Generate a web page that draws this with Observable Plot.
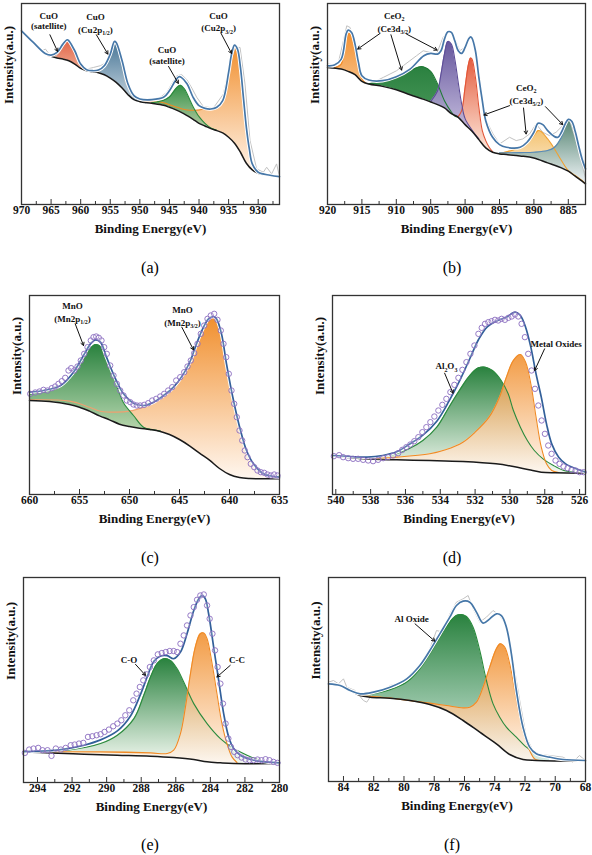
<!DOCTYPE html>
<html><head><meta charset="utf-8">
<script src="https://cdn.jsdelivr.net/npm/d3@7"></script>
<script src="https://cdn.jsdelivr.net/npm/@observablehq/plot@0.6"></script>
<style>
html,body{margin:0;padding:0;background:#fff;}
#fig{position:relative;width:592px;height:855px;overflow:hidden;font-family:"Liberation Serif","Times New Roman",serif;}
.panel{position:absolute;width:296px;}
.panel svg{overflow:visible;font-family:"Liberation Serif","Times New Roman",serif !important;}
.panel svg text{font-family:"Liberation Serif","Times New Roman",serif !important;}
.cap{position:absolute;width:60px;text-align:center;font-size:16px;line-height:16px;transform:translate(-50%,-50%);font-family:"Liberation Serif",serif;}
</style></head><body><div id="fig"></div>
<script>
// ---------- (a) Cu 2p ----------
const aTicks = [970,965,960,955,950,945,940,935,930];
const aMinor = [967.5,962.5,957.5,952.5,947.5,942.5,937.5,932.5,927.5];
const aBackground = [[970,522],[968,487],[966,454],[965,445],[964,440],[963,437],[962,432],[961,422],[960,409],[959,402],[958,399],[957,396],[956,390],[955,380],[954,367],[953,350],[952,330],[951,315],[950,309],[948,304],[946,298],[945,292],[944,285],[943,277],[942,267],[941,256],[940,244],[939,236],[938,228],[937,222],[936,215],[935,202],[934,184],[933,157],[932,124],[931,104],[930,94],[928,87],[926.4,84]];
const aEnvelope = [[970,522],[968,487],[966,454],[965,449],[964,457],[963,482],[962.3,495],[962,492],[961,462],[960,422],[959,405],[958,402],[957,404],[956,417],[955,452],[954.3,490],[954,487],[953,432],[952,362],[951,327],[950,317],[948,315],[946,322],[945,342],[944,372],[943.4,384],[943,382],[942,362],[941,322],[940,297],[939,289],[938,287],[937,292],[936,312],[935,397],[934.5,452],[934,479],[933.5,467],[933,412],[932.5,322],[932,232],[931.5,167],[931,122],[930,97],[928,88],[926.4,84]];
const aRed = [[965.5,447],[965,447],[964,454],[963,480],[962.3,494],[962,490],[961,459],[960,418],[959,403]];
const aBlue = [[959,403],[958,401],[957,403],[956,415],[955,450],[954.3,488],[954,485],[953,429],[952,357],[951,322],[950,311],[949,306]];
const aGreen = [[948,306],[947,309],[946,313],[945,323],[944,346],[943.5,355],[943.1,358],[942.5,348],[942,332],[941,294],[940,264],[939,244],[938,230],[937,223]];
const aOrange = [[950,312],[948,313],[946,306],[945,300],[944,294],[943,288],[942,284],[941,283],[940,284],[939,287],[938,287],[937,291],[936,311],[935,396],[934.5,451],[934,478],[933.5,466],[933,411],[932.5,321],[932,231],[931.5,165],[931,120],[930,96],[929,90],[928,87]];
const aRaw = [[970,527],[969.33,512],[968.48,497],[967.92,487],[967.36,477],[966.51,462],[965.95,467],[965.11,447],[964.27,444],[963.42,462],[962.58,487],[962.02,497],[961.46,482],[960.61,442],[959.77,412],[958.93,407],[957.8,412],[956.68,417],[955.55,427],[954.71,467],[954.15,492],[953.31,452],[952.46,367],[951.34,327],[949.93,312],[948.25,314],[946.56,322],[945.44,337],[944.31,372],[943.75,387],[942.91,390],[942.06,375],[941.22,350],[940.38,322],[939.25,294],[937.57,290],[935.88,332],[934.76,422],[933.91,472],[933.07,472],[932.23,362],[931.38,192],[930.26,107],[929.13,97],[928.57,112],[927.73,92],[926.89,122],[926.44,87]];
const aLabelText = ["CuO","(satellite)","CuO","(Cu2p_{1/2})","CuO","(satellite)","CuO","(Cu2p_{3/2})"];
const aLabelE = [965.4,965.4,957.5,957.5,945.4,945.4,936.7,936.7];
const aLabelI = [567,537,562,524,464,430,567,530];
const aArrowE1 = [965.2,957.35,945.15,936.3];
const aArrowI1 = [510,510,415,515];
const aArrowE2 = [963.9,955.4,943.5,934.5];
const aArrowI2 = [460,452,364,454];

// ---------- (b) Ce 3d ----------
const bTicks = [920,915,910,905,900,895,890,885];
const bMinor = [917.5,912.5,907.5,902.5,897.5,892.5,887.5,882.5];
const bBackground = [[920,412],[918,407],[917,400],[916,390],[915,370],[914,362],[912,355],[910,345],[908,330],[906,316],[905,308],[904,300],[903,290],[902,273],[901,262],[900,240],[899,220],[898,195],[897,170],[896,157],[895,152],[894,150],[892,146],[890,140],[888,125],[887,118],[886,110],[885,100],[884,85],[883,70],[882.5,62]];
const bEnvelope = [[920,417],[919,419],[918,437],[917.3,512],[917,524],[916.5,517],[916,482],[915.5,427],[915,387],[914,374],[912,372],[910,384],[908,407],[906,447],[905,454],[904,452],[903.5,462],[903,497],[902.5,519],[902,517],[901.5,492],[901,462],[900.5,454],[900,472],[899.5,497],[899.2,504],[899,500],[898.5,462],[898,382],[897.5,312],[897,252],[896,202],[895,180],[894,172],[892,172],[891,187],[890,217],[889.4,244],[888.7,240],[888,222],[887,204],[886.5,202],[886,217],[885.5,240],[885,256],[884.5,250],[884,220],[883.5,177],[883,137],[882.5,107]];
const bOrange = [[919,411],[918,422],[917.5,482],[917,512],[916.8,515],[916.5,507],[916,462],[915.5,407],[915,377],[914.5,366]];
const bGreen = [[914,363],[912,370],[910,384],[908,402],[906.5,414],[906,413],[905,400],[904,362],[903,312],[902,278],[901.5,266],[901,263]];
const bPurple = [[905,310],[904,342],[903.5,392],[903,452],[902.5,490],[902,482],[901.5,437],[901,367],[900.5,302],[900,258],[899,224],[898,197]];
const bRed = [[901,264],[900.5,282],[900,352],[899.5,422],[899.2,440],[899,437],[898.5,382],[898,292],[897.5,222],[897,192],[896.5,172],[896,159]];
const bYellow = [[895,153],[893,164],[892,172],[891,184],[890,207],[889.4,222],[889,220],[888,197],[887,167],[886,132],[885,102],[884,87],[883,72],[882.5,62]];
const bTeal = [[895,155],[892,156],[890,157],[888,162],[887,172],[886,202],[885.5,232],[885,255],[884.5,250],[884,222],[883.5,182],[883,142],[882.5,112]];
const bRaw = [[920,422],[919.13,420],[918.41,427],[917.68,492],[917.2,537],[916.72,532],[916.23,492],[915.51,417],[914.79,377],[913.34,367],[911.89,382],[910.92,392],[909.96,402],[908.99,417],[908.03,432],[907.06,447],[906.09,462],[905.13,457],[904.16,452],[903.2,502],[902.47,522],[901.75,512],[900.78,462],[900.06,472],[899.33,507],[898.61,482],[897.89,382],[897.16,262],[895.95,212],[894.99,182],[893.54,202],[892.57,192],[891.61,197],[890.63,212],[889.68,242],[888.71,217],[887.74,207],[886.78,217],[885.81,237],[884.85,257],[883.88,192],[883.16,132],[882.53,82]];
const bLabelText = ["CeO_{2}","(Ce3d_{3/2})","CeO_{2}","(Ce3d_{5/2})"];
const bLabelE = [910.3,910.3,891.1,891.1];
const bLabelI = [567,527,350,312];
const bArrowE1 = [912.37,910.78,908.51,893.54,891.51,888.32];
const bArrowI1 = [514,510,512,297,290,294];
const bArrowE2 = [915.61,909.23,904.07,897.26,891.13,885.81];
const bArrowI2 = [467,404,464,269,212,240];

// ---------- (c) Mn 2p ----------
const cTicks = [660,655,650,645,640,635];
const cMinor = [657.5,652.5,647.5,642.5,637.5];
const cBackground = [[660,282],[658,279],[656,270],[655,262],[654,250],[653,236],[652,224],[651,211],[650,204],[649,199],[648,195],[647,190],[646,180],[645,165],[644,146],[643,124],[642,103],[641,78],[640,60],[639,51],[638,48],[636,47],[635,47]];
const cEnvelope = [[660,307],[658.6,312],[656.9,327],[655.6,367],[654.6,417],[653.9,452],[653.4,464],[652.9,457],[652.3,412],[651.4,347],[650.6,302],[649.6,274],[648.6,267],[647.6,277],[646.6,297],[645.6,322],[644.6,362],[643.9,402],[643.3,452],[642.6,502],[642.1,527],[641.6,534],[641.3,527],[640.8,482],[640.3,392],[639.6,282],[638.9,192],[638.3,132],[637.6,92],[636.6,62],[635,52]];
const cGreen = [[660,300],[657.9,312],[656.3,337],[655,387],[654.1,432],[653.4,450],[652.9,444],[652.3,404],[651.4,335],[650.6,275],[649.6,237],[648.6,202],[647.6,194],[646.9,190]];
const cOrange = [[660,284],[656,280],[654,262],[652.9,250],[651.3,247],[650,250],[649,258],[648.6,262],[647.6,276],[646.6,296],[645.6,321],[644.6,361],[643.9,401],[643.3,451],[642.6,501],[642.1,524],[641.6,530],[641.3,524],[640.8,479],[640.3,389],[639.6,279],[638.9,189],[638.3,129],[637.6,89],[636.6,59],[635,49]];
const cCircles = [[659.93,302],[659.43,306],[659.0,309],[658.6,314],[658.2,312],[657.77,319],[657.43,324],[657.1,332],[656.77,340],[656.43,350],[656.1,372],[655.83,379],[655.53,372],[655.2,384],[654.87,402],[654.53,422],[654.2,442],[653.87,462],[653.6,472],[653.33,474],[653.07,470],[652.8,462],[652.53,442],[652.27,422],[651.93,387],[651.6,357],[651.27,332],[650.93,312],[650.6,297],[650.27,282],[649.93,277],[649.6,270],[649.27,267],[648.93,267],[648.53,269],[648.13,274],[647.73,282],[647.33,287],[646.93,294],[646.53,302],[646.13,312],[645.73,322],[645.33,342],[644.93,352],[644.53,367],[644.2,384],[643.87,402],[643.53,424],[643.2,452],[642.87,482],[642.53,507],[642.2,527],[641.87,537],[641.53,542],[641.2,524],[640.87,492],[640.6,452],[640.33,412],[640.07,362],[639.8,312],[639.53,272],[639.27,232],[639.0,192],[638.73,162],[638.47,132],[638.2,112],[637.87,92],[637.53,82],[637.2,72],[636.87,67],[636.53,65],[636.2,60],[635.87,57],[635.53,60],[635.2,57]];
const cLabelText = ["MnO","(Mn2p_{1/2})","MnO","(Mn2p_{3/2})"];
const cLabelE = [655.7,655.7,644.7,644.7];
const cLabelI = [564,527,552,515];
const cArrowE1 = [655.43,644.77];
const cArrowI1 = [512,502];
const cArrowE2 = [654.6,643.6];
const cArrowI2 = [447,434];

// ---------- (d) O 1s ----------
const dTicks = [540,538,536,534,532,530,528,526];
const dMinor = [539,537,535,533,531,529,527];
const dBackground = [[540.19,117],[539.4,112],[538.4,107],[536.5,104],[534.6,102],[532.7,99],[530.8,92],[529.8,84],[528.9,74],[528.2,67],[527.4,65],[525.66,64]];
const dEnvelope = [[540.19,117],[539.2,114],[538.2,112],[537.3,117],[536.5,128],[535.8,150],[535,178],[534.2,220],[533.5,280],[532.9,340],[532.3,408],[531.8,465],[531.3,503],[530.7,522],[530.2,532],[529.7,547],[529.4,537],[529.1,502],[528.8,442],[528.5,362],[528.2,292],[527.9,212],[527.6,152],[527.2,112],[526.8,92],[526.2,77],[525.66,67]];
const dGreen = [[538.4,109],[537.3,114],[536.5,122],[535.8,137],[535,162],[534.2,202],[533.5,262],[532.9,312],[532.3,357],[531.8,380],[531.4,382],[531,372],[530.5,342],[530.1,302],[529.8,252],[529.4,202],[529,162],[528.6,132],[528.1,107],[527.5,87],[526.9,72],[526.3,67]];
const dOrange = [[538.4,107],[536.5,112],[534.6,122],[533.7,134],[532.7,157],[532,187],[531.2,232],[530.6,292],[530.2,352],[529.8,402],[529.4,420],[529.1,397],[528.8,332],[528.5,232],[528.2,142],[527.9,92],[527.6,72],[527.2,66]];
const dCircles = [[540.11,115],[539.81,118],[539.58,112],[539.29,109],[539.01,107],[538.72,107],[538.43,104],[538.14,102],[537.86,100],[537.57,104],[537.28,109],[537.0,112],[536.71,117],[536.42,124],[536.18,134],[535.95,142],[535.72,150],[535.49,160],[535.26,172],[535.03,187],[534.8,202],[534.57,217],[534.34,234],[534.11,252],[533.88,269],[533.65,287],[533.42,307],[533.19,329],[532.96,350],[532.73,374],[532.5,397],[532.27,422],[532.04,447],[531.81,482],[531.62,500],[531.43,512],[531.24,517],[531.05,520],[530.86,524],[530.67,522],[530.48,527],[530.29,524],[530.09,530],[529.9,534],[529.71,540],[529.52,534],[529.33,512],[529.14,472],[528.95,422],[528.76,372],[528.56,317],[528.37,267],[528.18,222],[527.99,182],[527.8,147],[527.61,122],[527.38,102],[527.15,92],[526.92,84],[526.69,79],[526.46,74],[526.23,72],[526.0,67],[525.77,67]];
const dLabelText = ["Al_{2}O_{3}","Metal Oxides"];
const dLabelE = [533.65,527.34];
const dLabelI = [384,452];
const dArrowE1 = [533.75,528.01];
const dArrowI1 = [364,437];
const dArrowE2 = [533.27,528.58];
const dArrowI2 = [304,372];

// ---------- (e) C 1s ----------
const eTicks = [294,292,290,288,286,284,282,280];
const eMinor = [293,291,289,287,285,283,281];
const eBackground = [[294.81,92],[293.23,89],[291.31,85],[289.38,82],[287.46,79],[286.12,75],[284.96,69],[284.19,62],[283.42,59],[282.65,57],[280,57]];
const eEnvelope = [[294.81,93],[293.23,96],[292.27,102],[291.31,112],[290.35,128],[289.38,155],[288.62,200],[288.04,265],[287.65,318],[287.27,364],[286.88,380],[286.5,381],[286.12,372],[285.73,392],[285.35,447],[284.96,517],[284.67,552],[284.48,562],[284.29,552],[284.1,507],[283.81,407],[283.52,307],[283.23,207],[282.94,137],[282.65,102],[282.27,82],[281.5,67],[280.73,62],[280,59]];
const eGreen = [[294.81,92],[292.27,97],[290.35,117],[289.38,142],[288.42,192],[287.85,262],[287.46,317],[287.08,357],[286.69,372],[286.31,367],[285.92,342],[285.54,302],[284.96,237],[284.19,177],[283.42,132],[282.65,102],[281.88,82],[281.12,67],[280.73,62]];
const eOrange = [[294.81,92],[290.35,92],[287.46,89],[286.5,87],[286.12,97],[285.73,147],[285.44,227],[285.15,327],[284.87,407],[284.58,447],[284.38,449],[284.19,432],[283.9,357],[283.62,267],[283.33,177],[283.04,117],[282.75,77],[282.46,60]];
const eCircles = [[294.73,89],[294.48,99],[294.23,102],[293.96,104],[293.71,97],[293.42,97],[293.19,80],[292.94,102],[292.65,99],[292.37,104],[292.08,112],[291.85,114],[291.6,117],[291.35,119],[291.08,137],[290.83,139],[290.58,142],[290.35,145],[290.12,152],[289.87,159],[289.62,169],[289.38,177],[289.15,187],[288.92,202],[288.69,217],[288.46,247],[288.27,267],[288.08,287],[287.88,307],[287.69,325],[287.5,347],[287.27,367],[287.04,385],[286.81,389],[286.58,392],[286.35,395],[286.12,395],[285.92,392],[285.73,417],[285.54,442],[285.35,472],[285.15,502],[284.96,527],[284.77,549],[284.58,562],[284.38,565],[284.19,532],[284.04,492],[283.88,447],[283.73,397],[283.58,347],[283.42,297],[283.27,237],[283.12,177],[282.96,132],[282.81,107],[282.62,92],[282.42,82],[282.19,75],[281.96,69],[281.73,67],[281.5,67],[281.27,69],[281.04,67],[280.81,70],[280.58,67],[280.35,62],[280.12,59]];
const eLabelText = ["C-O","C-C"];
const eLabelE = [288.71,282.46];
const eLabelI = [367,369];
const eArrowE1 = [288.33,282.85];
const eArrowI1 = [355,352];
const eArrowE2 = [287.75,283.62];
const eArrowI2 = [322,317];

// ---------- (f) Al 2p ----------
const fTicks = [84,82,80,78,76,74,72,70,68];
const fMinor = [83,81,79,77,75,73,71,69];
const fBackground = [[84.99,293],[84.22,288],[83.56,273],[82.9,258],[82.24,253],[80.92,250],[79.6,243],[78.29,231],[77.19,213],[76.09,183],[74.99,148],[73.89,113],[73.01,81],[72.13,66],[71.25,63],[68,61]];
const fEnvelope = [[84.99,293],[84.22,288],[83.56,273],[82.9,263],[82.02,268],[80.92,283],[79.82,308],[78.95,348],[78.29,393],[77.63,443],[76.97,493],[76.53,528],[76.09,541],[75.65,538],[75.21,508],[74.77,475],[74.33,488],[73.89,503],[73.56,498],[73.23,463],[72.9,383],[72.57,273],[72.13,163],[71.69,103],[71.25,83],[70.37,73],[69.49,66],[68,63]];
const fGreen = [[82.9,258],[82.02,263],[80.92,275],[79.82,298],[78.95,338],[78.29,383],[77.63,433],[76.97,478],[76.53,498],[76.2,501],[75.87,495],[75.43,463],[74.99,393],[74.55,303],[74.11,233],[73.67,193],[73.23,163],[72.57,133],[71.91,103],[71.25,83],[70.37,71]];
const fOrange = [[82.9,258],[81.58,253],[80.48,248],[79.38,241],[78.29,235],[77.19,228],[76.09,221],[75.65,223],[75.21,238],[74.77,283],[74.33,343],[73.89,398],[73.63,413],[73.34,403],[73.01,353],[72.68,273],[72.35,193],[72.02,133],[71.69,93],[71.36,68],[71.03,63]];
const fRaw = [[84.99,298],[84.66,303],[84.33,293],[84.0,308],[83.78,283],[83.23,273],[82.68,243],[82.46,238],[82.02,268],[81.36,273],[80.92,288],[80.48,293],[80.04,298],[79.6,323],[79.16,338],[78.73,363],[78.29,398],[77.85,453],[77.41,448],[76.97,503],[76.53,538],[76.09,548],[75.76,558],[75.43,518],[74.99,478],[74.55,493],[74.11,513],[73.67,498],[73.23,468],[72.79,363],[72.35,243],[71.91,133],[71.47,93],[71.03,81],[70.37,78],[69.49,73],[68.84,58],[68.4,78],[68.0,63]];
const fLabelText = ["Al Oxide"];
const fLabelE = [79.49];
const fLabelI = [488];
const fArrowE1 = [79.27];
const fArrowI1 = [473];
const fArrowE2 = [77.96];
const fArrowI2 = [421];

// ---------- layout / style ----------
const SERIF = "Liberation Serif";
const GREEN = "#1e7b34", ORANGE = "#f08a24";
const panels = [
  {id:"a", left:0, top:0, frame:[21,279,3,204], xDomain:[970,926.4], yMax:604, ticks:aTicks, minor:aMinor,
   bg:aBackground, env:aEnvelope, envColor:"#4677a8", raw:aRaw, circles:null,
   comps:[{data:aRed,color:"#e05a3c",end:"#eea68c",line:"#e05a3c"},
          {data:aBlue,color:"#3f6f91",end:"#c3d3de",line:"#3f6f91"},
          {data:aOrange,color:ORANGE,end:"#fff5ec",line:ORANGE},
          {data:aGreen,color:"#2a8a3c",end:"#b8cfa8",line:"#2a8a3c"}],
   labels:[aLabelText,aLabelE,aLabelI], arrows:[aArrowE1,aArrowI1,aArrowE2,aArrowI2], cap:"(a)", capX:150, capY:268},
  {id:"b", left:296, top:0, frame:[327,585,3,204], xDomain:[920,882.5], yMax:604, ticks:bTicks, minor:bMinor,
   bg:bBackground, env:bEnvelope, envColor:"#4677a8", raw:bRaw, circles:null,
   comps:[{data:bOrange,color:"#f28a24",end:"#f6b878",line:"#f28a24"},
          {data:bGreen,color:"#1f7a35",end:"#3f9150",line:"#1f7a35"},
          {data:bYellow,color:"#f3c06a",end:"#fdf4e6",line:"#f0a030"},
          {data:bTeal,color:"#4b7d6a",end:"#eef3f6",line:"#5a8ab5"},
          {data:bRed,color:"#e35536",end:"#fde8da",line:"#e35536"},
          {data:bPurple,color:"#5e4e98",end:"#cbc3e2",line:"#5e4e98"}],
   labels:[bLabelText,bLabelE,bLabelI], arrows:[bArrowE1,bArrowI1,bArrowE2,bArrowI2], cap:"(b)", capX:452, capY:268},
  {id:"c", left:0, top:291, frame:[29,279,295,494], xDomain:[660,635], yMax:597, ticks:cTicks, minor:cMinor,
   bg:cBackground, env:cEnvelope, envColor:"#33609a", raw:null, circles:cCircles,
   comps:[{data:cOrange,color:ORANGE,end:"#fff6ee",line:"#f0a070"},
          {data:cGreen,color:GREEN,end:"#b5d6ad",line:"#2a8a3c"}],
   labels:[cLabelText,cLabelE,cLabelI], arrows:[cArrowE1,cArrowI1,cArrowE2,cArrowI2], cap:"(c)", capX:150, capY:558},
  {id:"d", left:296, top:291, frame:[332,585,295,494], xDomain:[540.19,525.66], yMax:597, ticks:dTicks, minor:dMinor,
   bg:dBackground, env:dEnvelope, envColor:"#33609a", raw:null, circles:dCircles,
   comps:[{data:dGreen,color:GREEN,end:"#f2f8f0",line:"#2a8a3c"},
          {data:dOrange,color:ORANGE,end:"#fff6ee",line:ORANGE,op:0.85}],
   labels:[dLabelText,dLabelE,dLabelI], arrows:[dArrowE1,dArrowI1,dArrowE2,dArrowI2], cap:"(d)", capX:452, capY:558},
  {id:"e", left:0, top:575, frame:[23,279,577,782], xDomain:[294.81,280], yMax:616, ticks:eTicks, minor:eMinor,
   bg:eBackground, env:eEnvelope, envColor:"#33609a", raw:null, circles:eCircles,
   comps:[{data:eGreen,color:GREEN,end:"#f2f8f0",line:"#2a8a3c"},
          {data:eOrange,color:ORANGE,end:"#fff6ee",line:ORANGE,op:0.85}],
   labels:[eLabelText,eLabelE,eLabelI], arrows:[eArrowE1,eArrowI1,eArrowE2,eArrowI2], cap:"(e)", capX:150, capY:845},
  {id:"f", left:296, top:575, frame:[328,585,577,781], xDomain:[84.99,68], yMax:612, ticks:fTicks, minor:fMinor,
   bg:fBackground, env:fEnvelope, envColor:"#4677a8", raw:fRaw, circles:null,
   comps:[{data:fGreen,color:GREEN,end:"#d4ebe2",line:"#2a8a3c"},
          {data:fOrange,color:ORANGE,end:"#fff6ee",line:ORANGE,op:0.85}],
   labels:[fLabelText,fLabelE,fLabelI], arrows:[fArrowE1,fArrowI1,fArrowE2,fArrowI2], cap:"(f)", capX:452, capY:845}
];

const SVGNS = "http://www.w3.org/2000/svg";
function applySubs(svg) {
  svg.querySelectorAll("text").forEach(t => {
    const s = t.textContent;
    if (!s.includes("_{")) return;
    const parts = s.split(/(_\{[^}]*\})/).filter(x => x);
    while (t.firstChild) t.removeChild(t.firstChild);
    let sub = false;
    parts.forEach(p => {
      const ts = document.createElementNS(SVGNS, "tspan");
      if (p.startsWith("_{")) {
        ts.textContent = p.slice(2, -1);
        ts.setAttribute("font-size", "6");
        ts.setAttribute("dy", "2.5");
        sub = true;
      } else {
        ts.textContent = p;
        if (sub) { ts.setAttribute("dy", "-2.5"); sub = false; }
      }
      t.appendChild(ts);
    });
  });
}

const fig = document.getElementById("fig");
const X = d => d[0], Y = d => d[1];
const cr = "catmull-rom";

panels.forEach(p => {
  const W = 296;
  const mL = p.frame[0] - p.left, mR = p.left + W - p.frame[1];
  const mT = p.frame[2] - p.top, frameH = p.frame[3] - p.frame[2];
  const mB = 48;
  const H = mT + frameH + mB;
  const tickLen = p.yMax * 5 / frameH, minorLen = p.yMax * 3 / frameH;
  const marks = [];
  p.comps.forEach((c, k) => marks.push(Plot.areaY(c.data, {x: X, y1: 0, y2: Y, fill: `url(#g-${p.id}-${k})`, curve: cr})));
  marks.push(Plot.areaY(p.bg, {x: X, y1: 0, y2: Y, fill: "white", curve: cr}));
  if (p.raw) marks.push(Plot.line(p.raw, {x: X, y: Y, stroke: "#c2c2c2", strokeWidth: 1}));
  p.comps.forEach(c => marks.push(Plot.line(c.data, {x: X, y: Y, stroke: c.line, strokeWidth: 1.1, curve: cr})));
  marks.push(Plot.line(p.bg, {x: X, y: Y, stroke: "#1a1a1a", strokeWidth: 1.5, curve: cr}));
  marks.push(Plot.line(p.env, {x: X, y: Y, stroke: "white", strokeWidth: 3.6, curve: cr}));
  marks.push(Plot.line(p.env, {x: X, y: Y, stroke: p.envColor, strokeWidth: 1.7, curve: cr}));
  if (p.circles) marks.push(Plot.dot(p.circles, {x: X, y: Y, r: 2.7, stroke: "#8a6cc0", strokeWidth: 0.9, fill: "white", fillOpacity: 0.2}));
  const [ax1, ay1, ax2, ay2] = p.arrows;
  marks.push(Plot.arrow(d3.range(ax1.length), {x1: i => ax1[i], y1: i => ay1[i], x2: i => ax2[i], y2: i => ay2[i], stroke: "#111", strokeWidth: 1, headLength: 5}));
  const [lt, lx, ly] = p.labels;
  marks.push(Plot.text(d3.range(lt.length), {x: i => lx[i], y: i => ly[i], text: i => lt[i], fontSize: 9, fontWeight: "bold", fontFamily: SERIF}));
  marks.push(Plot.ruleX(p.ticks, {x: d => d, y1: 0, y2: tickLen, stroke: "#333", strokeWidth: 1}));
  marks.push(Plot.ruleX(p.minor, {x: d => d, y1: 0, y2: minorLen, stroke: "#333", strokeWidth: 1}));
  marks.push(Plot.text(p.ticks, {x: d => d, frameAnchor: "bottom", dy: 9.5, text: d => String(d), fontSize: 11.5, fontWeight: "bold", fontFamily: SERIF}));
  marks.push(Plot.text(["Binding Energy(eV)"], {frameAnchor: "bottom", dy: 28, text: d => d, fontSize: 13, fontWeight: "bold", fontFamily: SERIF}));
  marks.push(Plot.text(["Intensity(a.u.)"], {frameAnchor: "left", dx: -13, rotate: -90, text: d => d, fontSize: 13, fontWeight: "bold", fontFamily: SERIF}));
  marks.push(Plot.frame({stroke: "#333", strokeWidth: 1.3}));

  const chart = Plot.plot({
    width: W, height: H, marginLeft: mL, marginRight: mR, marginTop: mT, marginBottom: mB,
    x: {domain: p.xDomain, axis: null},
    y: {domain: [0, p.yMax], axis: null},
    style: {fontFamily: SERIF, fontSize: "11px", background: "transparent", color: "#111"},
    marks
  });

  const py = v => mT + frameH * (1 - v / p.yMax);
  const defs = d3.select(chart).insert("defs", ":first-child");
  p.comps.forEach((c, k) => {
    const xs = c.data.map(X);
    const lo0 = d3.min(xs), hi0 = d3.max(xs);
    const top = d3.max(c.data, Y);
    const bgIn = p.bg.filter(d => d[0] >= lo0 && d[0] <= hi0).map(Y);
    const low = bgIn.length ? d3.min(bgIn) : d3.min(c.data, Y);
    const g = defs.append("linearGradient").attr("id", `g-${p.id}-${k}`)
      .attr("gradientUnits", "userSpaceOnUse").attr("x1", 0).attr("x2", 0)
      .attr("y1", py(top)).attr("y2", py(low));
    const op = c.op ?? 0.95;
    g.append("stop").attr("offset", 0).attr("stop-color", c.color).attr("stop-opacity", op);
    g.append("stop").attr("offset", 1).attr("stop-color", c.end).attr("stop-opacity", op);
  });
  applySubs(chart);

  const div = document.createElement("div");
  div.className = "panel";
  div.style.left = p.left + "px";
  div.style.top = p.top + "px";
  div.appendChild(chart);
  fig.appendChild(div);

  const cap = document.createElement("div");
  cap.className = "cap";
  cap.style.left = p.capX + "px";
  cap.style.top = p.capY + "px";
  cap.textContent = p.cap;
  fig.appendChild(cap);
});
</script></body></html>
